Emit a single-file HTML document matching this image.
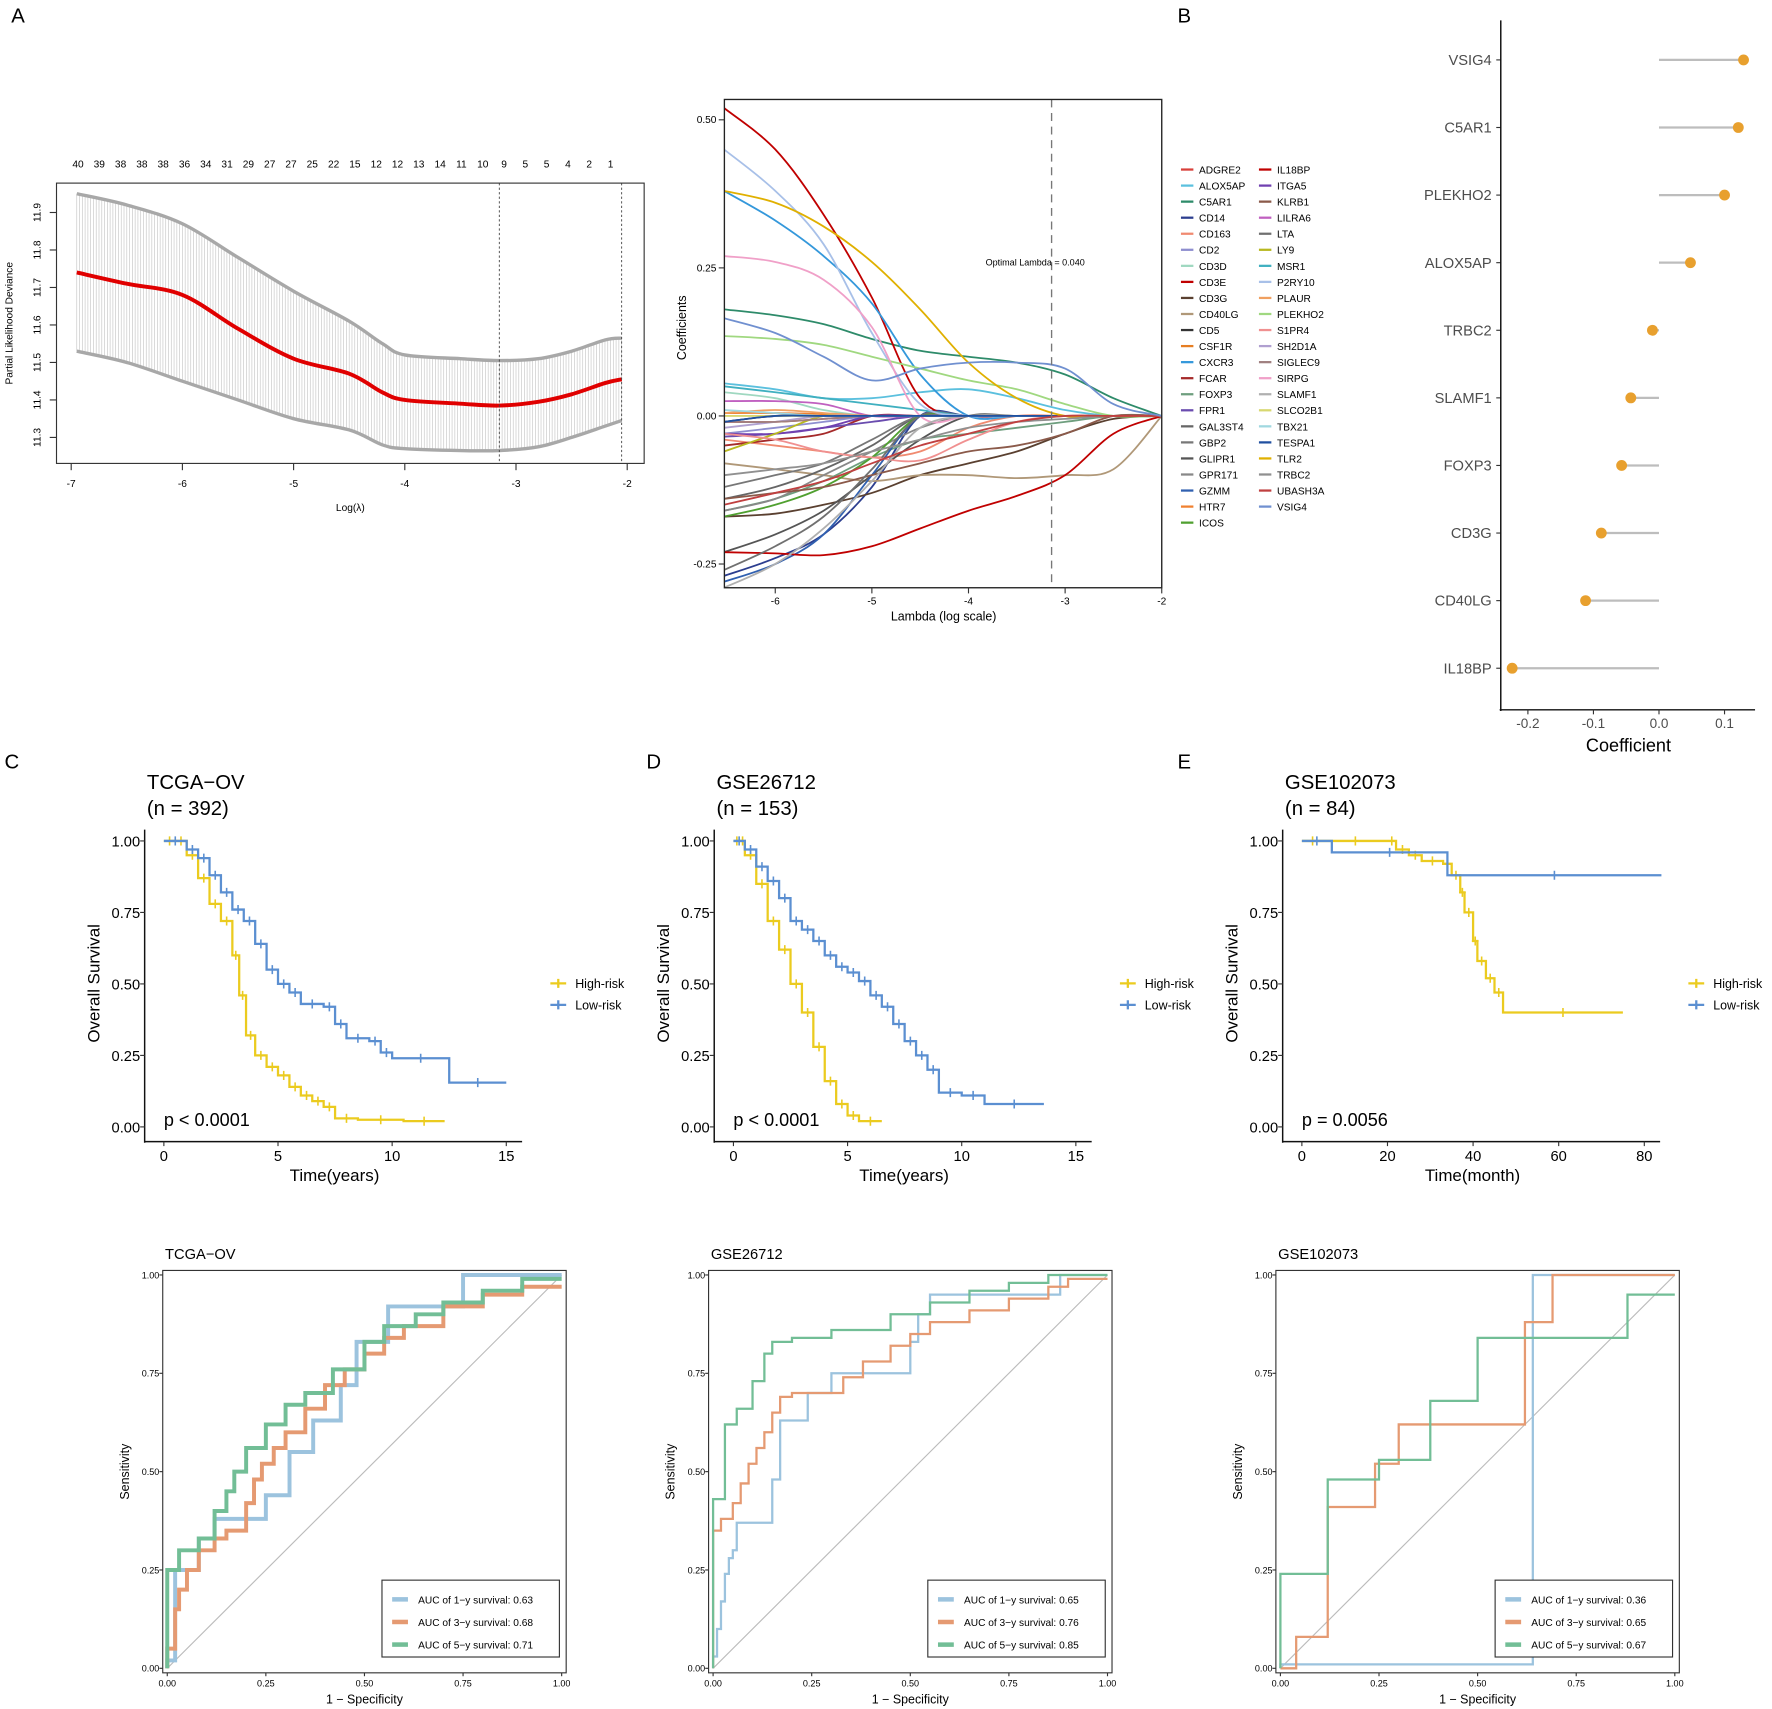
<!DOCTYPE html>
<html><head><meta charset="utf-8"><title>Risk model figure</title>
<style>html,body{margin:0;padding:0;background:#fff;}svg{display:block;font-family:"Liberation Sans",sans-serif;}</style>
</head><body>
<svg id="fig" width="1772" height="1709" viewBox="0 0 1568 1512" preserveAspectRatio="none" xmlns="http://www.w3.org/2000/svg"></svg>
<script>
// ---------- Panel A left: CV deviance ----------
const cvLambda = [-6.95,-6.5,-6,-5.5,-5,-4.5,-4.2,-4,-3.5,-3.15,-2.8,-2.5,-2.2,-2.05];
const cvMean   = [11.74,11.71,11.68,11.59,11.51,11.47,11.42,11.40,11.39,11.385,11.395,11.415,11.445,11.455];
const cvUpper  = [11.95,11.92,11.87,11.78,11.69,11.61,11.55,11.52,11.51,11.505,11.51,11.53,11.56,11.565];
const cvLower  = [11.53,11.50,11.45,11.40,11.35,11.32,11.28,11.27,11.265,11.265,11.275,11.30,11.33,11.345];
const nzCounts = ["40","39","38","38","38","36","34","31","29","27","27","25","22","15","12","12","13","14","11","10","9","5","5","4","2","1"];
const cvXTicks = [-7,-6,-5,-4,-3,-2];
const cvYTicks = [11.3,11.4,11.5,11.6,11.7,11.8,11.9];
const cvVlines = [-3.15,-2.05];

// ---------- Panel A right: coefficient paths ----------
const pathLambda = [-6.53,-6,-5.5,-5,-4.5,-4,-3.5,-3,-2.5,-2];
const geneNames = ["ADGRE2","ALOX5AP","C5AR1","CD14","CD163","CD2","CD3D","CD3E","CD3G","CD40LG","CD5","CSF1R","CXCR3","FCAR","FOXP3","FPR1","GAL3ST4","GBP2","GLIPR1","GPR171","GZMM","HTR7","ICOS",
"IL18BP","ITGA5","KLRB1","LILRA6","LTA","LY9","MSR1","P2RY10","PLAUR","PLEKHO2","S1PR4","SH2D1A","SIGLEC9","SIRPG","SLAMF1","SLCO2B1","TBX21","TESPA1","TLR2","TRBC2","UBASH3A","VSIG4"];
const geneColors = ["#d8403a","#5bc0de","#2e8b6a","#2c3e8f","#f08a70","#8e8ecf","#9fd8c0","#c00000","#5a4030","#b09878","#333333","#e67e22","#3498db","#a52a2a","#6e9e7e","#6a4caf","#666666","#777777","#555555","#888888","#3060b0","#f08030","#50a030",
"#c00000","#7040b0","#8b5a4a","#c060c0","#707070","#b8b820","#40b0c0","#a8c0e8","#f0a060","#a0d880","#f09090","#b0a0d0","#a08080","#f0a0c8","#b0b0b0","#d8d870","#a0d8e0","#2050a0","#e0b000","#909090","#c04040","#7090d0"];
const ADGRE2=[-0.01,-0.01,-0.005,0,0,0,0,0,0,0], ALOX5AP=[0.055,0.045,0.03,0.03,0.04,0.045,0.03,0.01,0,0], C5AR1=[0.18,0.17,0.155,0.13,0.11,0.1,0.09,0.07,0.03,0],
CD14=[-0.27,-0.24,-0.2,-0.12,0,0,0,0,0,0], CD163=[-0.04,-0.05,-0.06,-0.07,-0.06,-0.02,0,0,0,0], CD2=[-0.03,-0.02,-0.01,0,0,0,0,0,0,0], CD3D=[0.04,0.03,0.01,0,0,0,0,0,0,0],
CD3E=[0.52,0.45,0.34,0.2,0.03,0,0,0,0,0], CD3G=[-0.17,-0.165,-0.15,-0.13,-0.1,-0.08,-0.06,-0.03,-0.005,0], CD40LG=[-0.08,-0.09,-0.1,-0.11,-0.1,-0.1,-0.105,-0.1,-0.09,0],
CD5=[-0.01,0,0,0,0,0,0,0,0,0], CSF1R=[0.005,0.005,0,0,0,0,0,0,0,0], CXCR3=[0.38,0.33,0.27,0.19,0.07,0,0,0,0,0], FCAR=[-0.05,-0.04,-0.03,0,0,0,0,0,0,0],
FOXP3=[-0.16,-0.14,-0.11,-0.07,-0.04,-0.03,-0.02,-0.01,0,0], FPR1=[-0.035,-0.03,-0.02,-0.01,0,0,0,0,0,0], GAL3ST4=[-0.14,-0.12,-0.09,-0.05,0,0,0,0,0,0],
GBP2=[-0.12,-0.1,-0.08,-0.04,0,0,0,0,0,0], GLIPR1=[-0.23,-0.2,-0.16,-0.1,-0.04,0,0,0,0,0], GPR171=[-0.16,-0.14,-0.1,-0.06,-0.02,0,0,0,0,0],
GZMM=[-0.28,-0.25,-0.2,-0.1,0,0,0,0,0,0], HTR7=[0.005,0.005,0.003,0,0,0,0,0,0,0], ICOS=[-0.17,-0.15,-0.12,-0.07,0,0,0,0,0,0],
IL18BP=[-0.23,-0.232,-0.235,-0.22,-0.19,-0.16,-0.135,-0.1,-0.03,0], ITGA5=[-0.03,-0.03,-0.02,0,0,0,0,0,0,0], KLRB1=[-0.14,-0.13,-0.12,-0.1,-0.08,-0.06,-0.05,-0.03,0,0],
LILRA6=[0.025,0.025,0.02,0,0,0,0,0,0,0], LTA=[-0.26,-0.22,-0.17,-0.09,0,0,0,0,0,0], LY9=[-0.06,-0.03,0,0,0,0,0,0,0,0], MSR1=[0.05,0.04,0.03,0.02,0.01,0,0,0,0,0],
P2RY10=[0.45,0.38,0.29,0.14,0.02,0,0,0,0,0], PLAUR=[0.005,0.01,0.005,0,0,0,0,0,0,0], PLEKHO2=[0.135,0.13,0.12,0.1,0.08,0.06,0.045,0.02,0,0],
S1PR4=[-0.03,-0.04,-0.06,-0.07,-0.075,-0.04,-0.01,0,0,0], SH2D1A=[-0.02,-0.01,0,0,0,0,0,0,0,0], SIGLEC9=[-0.01,-0.01,-0.005,0,0,0,0,0,0,0],
SIRPG=[0.27,0.26,0.23,0.15,0,0,0,0,0,0], SLAMF1=[-0.29,-0.25,-0.19,-0.11,-0.02,0,0,0,0,0], SLCO2B1=[0,0,0,0,0,0,0,0,0,0], TBX21=[0.01,0.005,0,0,0,0,0,0,0,0],
TESPA1=[-0.01,0,0,0,0,0,0,0,0,0], TLR2=[0.38,0.36,0.32,0.26,0.18,0.09,0.03,0,0,0], TRBC2=[-0.1,-0.09,-0.08,-0.06,-0.04,-0.02,-0.01,-0.005,0,0],
UBASH3A=[-0.15,-0.13,-0.11,-0.08,-0.05,-0.03,-0.01,0,0,0], VSIG4=[0.165,0.14,0.1,0.06,0.08,0.09,0.09,0.08,0.02,0];
const pathSeries=[ADGRE2,ALOX5AP,C5AR1,CD14,CD163,CD2,CD3D,CD3E,CD3G,CD40LG,CD5,CSF1R,CXCR3,FCAR,FOXP3,FPR1,GAL3ST4,GBP2,GLIPR1,GPR171,GZMM,HTR7,ICOS,IL18BP,ITGA5,KLRB1,LILRA6,LTA,LY9,MSR1,P2RY10,PLAUR,PLEKHO2,S1PR4,SH2D1A,SIGLEC9,SIRPG,SLAMF1,SLCO2B1,TBX21,TESPA1,TLR2,TRBC2,UBASH3A,VSIG4];
const pathXTicks=[-6,-5,-4,-3,-2];
const pathYTicks=[-0.25,0,0.25,0.5];
const optLambda=-3.14;

// ---------- Panel B ----------
const lolGenes=["VSIG4","C5AR1","PLEKHO2","ALOX5AP","TRBC2","SLAMF1","FOXP3","CD3G","CD40LG","IL18BP"];
const lolCoef=[0.129,0.121,0.100,0.048,-0.010,-0.043,-0.057,-0.088,-0.112,-0.224];
const lolTicks=[-0.2,-0.1,0.0,0.1];

// ---------- KM ----------
const kmCHighT=[0,0.5,1,1.5,2,2.5,3,3.3,3.6,4,4.5,5,5.5,6,6.5,7,7.5,8.5,10.5,12.3];
const kmCHighS=[1,1,0.95,0.87,0.78,0.72,0.6,0.46,0.32,0.25,0.21,0.18,0.14,0.11,0.09,0.07,0.03,0.025,0.02,0.02];
const kmCLowT=[0,1,1.5,2,2.5,3,3.5,4,4.5,5,5.5,6,7,7.5,8,9,9.5,10,12.5,15];
const kmCLowS=[1,0.97,0.94,0.88,0.82,0.76,0.72,0.64,0.55,0.5,0.47,0.43,0.42,0.36,0.31,0.3,0.26,0.24,0.155,0.155];
const kmDHighT=[0,0.3,0.5,1,1.5,2,2.5,3,3.5,4,4.5,5,5.5,6.5];
const kmDHighS=[1,1,0.95,0.85,0.72,0.62,0.5,0.4,0.28,0.16,0.08,0.04,0.02,0.02];
const kmDLowT=[0,0.5,1,1.5,2,2.5,3,3.5,4,4.5,5,5.5,6,6.5,7,7.5,8,8.5,9,10,11,13.6];
const kmDLowS=[1,0.97,0.91,0.86,0.8,0.72,0.69,0.65,0.6,0.56,0.54,0.51,0.46,0.42,0.36,0.3,0.25,0.2,0.12,0.11,0.08,0.08];
const kmEHighT=[0,5,20,22,25,28,33,35,37,38,40,41,43,45,47,75];
const kmEHighS=[1,1,1,0.97,0.95,0.93,0.92,0.88,0.82,0.75,0.65,0.58,0.52,0.47,0.40,0.40];
const kmELowT=[0,7,34,84];
const kmELowS=[1,0.96,0.88,0.88];
const kmYTicks=[0,0.25,0.5,0.75,1];
const kmYearTicks=[0,5,10,15];
const kmMonthTicks=[0,20,40,60,80];

// ---------- ROC ----------
const rocC1x=[0,0.02,0.08,0.12,0.25,0.31,0.37,0.44,0.48,0.56,0.75,0.84,1];
const rocC1y=[0,0.02,0.25,0.33,0.38,0.44,0.55,0.63,0.72,0.83,0.92,1,1];
const rocC3x=[0,0.02,0.03,0.05,0.08,0.12,0.15,0.2,0.22,0.24,0.27,0.3,0.35,0.4,0.45,0.5,0.55,0.6,0.7,0.8,0.9,1];
const rocC3y=[0,0.05,0.15,0.2,0.25,0.3,0.33,0.35,0.42,0.48,0.52,0.56,0.6,0.66,0.72,0.76,0.8,0.84,0.87,0.92,0.95,0.97];
const rocC5x=[0,0,0.03,0.08,0.12,0.15,0.17,0.2,0.25,0.3,0.35,0.42,0.5,0.55,0.63,0.7,0.8,0.9,1];
const rocC5y=[0,0.18,0.25,0.3,0.33,0.4,0.45,0.5,0.56,0.62,0.67,0.7,0.76,0.83,0.87,0.9,0.93,0.96,0.99];
const rocD1x=[0,0.01,0.02,0.03,0.04,0.05,0.06,0.15,0.17,0.24,0.3,0.5,0.52,0.55,0.88,0.93,1];
const rocD1y=[0,0.03,0.1,0.17,0.24,0.28,0.3,0.37,0.48,0.63,0.7,0.75,0.83,0.9,0.95,1,1];
const rocD3x=[0,0,0.02,0.05,0.07,0.09,0.11,0.13,0.15,0.17,0.2,0.33,0.38,0.45,0.5,0.55,0.65,0.75,0.85,0.9,1];
const rocD3y=[0,0.32,0.35,0.38,0.42,0.47,0.52,0.56,0.6,0.65,0.69,0.7,0.74,0.78,0.82,0.85,0.88,0.91,0.94,0.97,0.99];
const rocD5x=[0,0,0.03,0.06,0.1,0.13,0.15,0.2,0.3,0.45,0.55,0.65,0.75,0.85,0.95,1];
const rocD5y=[0,0.41,0.43,0.62,0.66,0.73,0.8,0.83,0.84,0.86,0.9,0.93,0.96,0.98,1,1];
const rocE1x=[0,0,0.64,0.64,1];
const rocE1y=[0,0.01,0.01,1,1];
const rocE3x=[0,0.04,0.04,0.12,0.12,0.14,0.24,0.24,0.3,0.3,0.62,0.62,0.69,0.69,1];
const rocE3y=[0,0,0.08,0.08,0.32,0.41,0.41,0.52,0.52,0.62,0.62,0.88,0.88,1,1];
const rocE5x=[0,0,0.12,0.12,0.25,0.25,0.38,0.38,0.5,0.5,0.88,0.88,1];
const rocE5y=[0,0.24,0.24,0.48,0.48,0.53,0.53,0.68,0.68,0.84,0.84,0.95,0.95];
const aucC=["0.63","0.68","0.71"], aucD=["0.65","0.76","0.85"], aucE=["0.36","0.65","0.67"];
const rocTicks=[0,0.25,0.5,0.75,1];

// ================= drawing =================
const svg=document.getElementById('fig');
const NS='http://www.w3.org/2000/svg';
function mk(tag,attrs,parent){const e=document.createElementNS(NS,tag);for(const k in attrs)e.setAttribute(k,attrs[k]);(parent||svg).appendChild(e);return e;}
function txt(s,x,y,size,opts,parent){const o=opts||{};const t=mk('text',{x:x,y:y,'font-size':size,fill:o.fill||'#000','text-anchor':o.anchor||'start'},parent);if(o.rot)t.setAttribute('transform','rotate('+o.rot+' '+x+' '+y+')');if(o.weight)t.setAttribute('font-weight',o.weight);t.textContent=s;return t;}
function lin(d0,d1,r0,r1){return v=>r0+(v-d0)*(r1-r0)/(d1-d0);}
function fmt2(v){return v.toFixed(2);}
// Catmull-Rom smooth path through points
function smooth(pts){
  let d='M'+pts[0][0]+','+pts[0][1];
  for(let i=0;i<pts.length-1;i++){
    const p0=pts[i-1]||pts[i],p1=pts[i],p2=pts[i+1],p3=pts[i+2]||p2;
    const c1=[p1[0]+(p2[0]-p0[0])/6,p1[1]+(p2[1]-p0[1])/6];
    const c2=[p2[0]-(p3[0]-p1[0])/6,p2[1]-(p3[1]-p1[1])/6];
    d+=' C'+c1[0]+','+c1[1]+' '+c2[0]+','+c2[1]+' '+p2[0]+','+p2[1];
  }
  return d;
}

// panel letters
[["A",10,20],["B",1042,20],["C",4,680],["D",572,680],["E",1042,680]].forEach(p=>{
  const t=txt(p[0],p[1],p[2],18);
  
  
});

// ---- A left ----
(function(){
  const g=mk('g',{});
  
  
  const X=lin(-7,-2,63,555), Y=lin(11.3,11.9,387,188);
  function interp(arr,l){for(let i=0;i<cvLambda.length-1;i++){if(l>=cvLambda[i]&&l<=cvLambda[i+1]){const f=(l-cvLambda[i])/(cvLambda[i+1]-cvLambda[i]);return arr[i]+f*(arr[i+1]-arr[i]);}}return arr[arr.length-1];}
  for(let l=cvLambda[0];l<=cvLambda[cvLambda.length-1]+1e-9;l+=0.025){
    const b=mk('line',{x1:X(l),x2:X(l),y1:Y(interp(cvUpper,l)),y2:Y(interp(cvLower,l)),stroke:'#c8c8c8','stroke-width':0.6},g);
    
    
  }
  const up=mk('path',{d:smooth(cvLambda.map((l,i)=>[X(l),Y(cvUpper[i])])),fill:'none',stroke:'#a8a8a8','stroke-width':3},g);
  
  
  const lo=mk('path',{d:smooth(cvLambda.map((l,i)=>[X(l),Y(cvLower[i])])),fill:'none',stroke:'#a8a8a8','stroke-width':3},g);
  
  
  const m=mk('path',{d:smooth(cvLambda.map((l,i)=>[X(l),Y(cvMean[i])])),fill:'none',stroke:'#e00000','stroke-width':3.5,'stroke-linejoin':'round'},g);
  
  
  cvVlines.forEach(v=>{const l=mk('line',{x1:X(v),x2:X(v),y1:162,y2:410,stroke:'#444','stroke-width':0.8,'stroke-dasharray':'2,2'},g);
    
    });
  const box=mk('rect',{x:50,y:162,width:520,height:248,fill:'none',stroke:'#333','stroke-width':1},g);
  
  
  cvXTicks.forEach(v=>{mk('line',{x1:X(v),x2:X(v),y1:410,y2:416,stroke:'#333'},g);const t=txt(String(v),X(v),431,9,{anchor:'middle'},g);
    
    });
  cvYTicks.forEach(v=>{mk('line',{x1:44,x2:50,y1:Y(v),y2:Y(v),stroke:'#333'},g);const t=txt(v.toFixed(1),36,Y(v),9,{anchor:'middle',rot:-90},g);
    
    });
  nzCounts.forEach((c,i)=>{const t=txt(c,69+i*18.85,148,9,{anchor:'middle'},g);
    
    });
  const xl=txt('Log(λ)',310,452,9,{anchor:'middle'},g);
  
  
  const yl=txt('Partial Likelihood Deviance',11,286,9,{anchor:'middle',rot:-90},g);
  
  
})();

// ---- A right ----
(function(){
  const g=mk('g',{});
  
  
  const X=lin(-6,-2,686,1028), Y=lin(0,0.5,368,106);
  const clip=mk('clipPath',{id:'cpclip'},g);mk('rect',{x:641,y:88,width:387,height:432},clip);
  const lg=mk('g',{'clip-path':'url(#cpclip)'},g);
  pathSeries.forEach((s,i)=>{
    const p=mk('path',{d:smooth(pathLambda.map((l,j)=>[X(l),Y(s[j])])),fill:'none',stroke:geneColors[i],'stroke-width':1.6,'stroke-linejoin':'round'},lg);
    
    
  });
  const ol=mk('line',{x1:X(optLambda),x2:X(optLambda),y1:88,y2:520,stroke:'#777','stroke-width':1.2,'stroke-dasharray':'7,5'},g);
  
  
  const ot=txt('Optimal Lambda = 0.040',916,235,8,{anchor:'middle'},g);
  
  
  const box=mk('rect',{x:641,y:88,width:387,height:432,fill:'none',stroke:'#222','stroke-width':1.2},g);
  
  
  pathXTicks.forEach(v=>{mk('line',{x1:X(v),x2:X(v),y1:520,y2:525,stroke:'#333'},g);const t=txt(String(v),X(v),535,9,{anchor:'middle'},g);
    
    });
  pathYTicks.forEach(v=>{mk('line',{x1:636,x2:641,y1:Y(v),y2:Y(v),stroke:'#333'},g);const t=txt(v.toFixed(2),634,Y(v)+3,9,{anchor:'end'},g);
    
    });
  const xl=txt('Lambda (log scale)',835,549,11,{anchor:'middle'},g);
  
  
  const yl=txt('Coefficients',607,290,11,{anchor:'middle',rot:-90},g);
  
  
  geneNames.forEach((n,i)=>{
    const col=i<23?0:1, row=i<23?i:i-23;
    const x=1045+col*69, y=150+row*14.2;
    const it=mk('g',{},g);
    
    
    mk('line',{x1:x,x2:x+11,y1:y,y2:y,stroke:geneColors[i],'stroke-width':2},it);
    txt(n,x+16,y+3.5,9,{},it);
  });
})();

// ---- B ----
(function(){
  const g=mk('g',{});
  
  
  const X=lin(0,0.1,1468,1526);
  lolGenes.forEach((n,i)=>{
    const y=53+i*59.8;
    const st=mk('line',{x1:X(0),x2:X(lolCoef[i]),y1:y,y2:y,stroke:'#bdbdbd','stroke-width':2},g);
    
    
    const c=mk('circle',{cx:X(lolCoef[i]),cy:y,r:4.8,fill:'#E8A02E'},g);
    
    
    mk('line',{x1:1324,x2:1328,y1:y,y2:y,stroke:'#333'},g);
    const t=txt(n,1320,y+4.5,13,{anchor:'end',fill:'#4d4d4d'},g);
    
    
  });
  const ya=mk('line',{x1:1328,x2:1328,y1:18,y2:629,stroke:'#111','stroke-width':1.3},g);
  
  
  const xa=mk('line',{x1:1327,x2:1553,y1:628,y2:628,stroke:'#111','stroke-width':1.3},g);
  
  
  lolTicks.forEach(v=>{mk('line',{x1:X(v),x2:X(v),y1:628,y2:632,stroke:'#333'},g);const t=txt(v.toFixed(1),X(v),644,12,{anchor:'middle',fill:'#4d4d4d'},g);
    
    });
  const xl=txt('Coefficient',1441,665,16,{anchor:'middle'},g);
  
  
})();

// ---- KM panels ----
function km(opt){
  const g=mk('g',{});
  
  
  const ax=opt.ax;
  const X=lin(0,opt.xmax,ax+17,ax+17+opt.xspan), Y=lin(0,1,997,744);
  function stepPath(T,S){let d='M'+X(T[0])+','+Y(S[0]);for(let i=1;i<T.length;i++){d+=' H'+X(T[i])+' V'+Y(S[i]);}return d;}
  [[opt.hiT,opt.hiS,'#EBCB1F','high-risk-curve'],[opt.loT,opt.loS,'#5B8FD1','low-risk-curve']].forEach(c=>{
    const p=mk('path',{d:stepPath(c[0],c[1]),fill:'none',stroke:c[2],'stroke-width':2},g);
    
    
    for(let i=1;i<c[0].length;i++){
      const tm=(c[0][i-1]+c[0][i])/2, x=X(tm), y=Y(c[1][i-1]);
      const m=mk('path',{d:'M'+(x-3)+','+y+' H'+(x+3)+' M'+x+','+(y-4)+' V'+(y+4),stroke:c[2],'stroke-width':1.4},g);
      
      
    }
  });
  const ya=mk('line',{x1:ax,x2:ax,y1:734,y2:1011,stroke:'#111','stroke-width':1.3},g);
  
  
  const xa=mk('line',{x1:ax,x2:ax+334,y1:1010,y2:1010,stroke:'#111','stroke-width':1.3},g);
  
  
  kmYTicks.forEach(v=>{mk('line',{x1:ax-4,x2:ax,y1:Y(v),y2:Y(v),stroke:'#333'},g);const t=txt(fmt2(v),ax-4,Y(v)+5,13,{anchor:'end'},g);
    
    });
  opt.xticks.forEach(v=>{mk('line',{x1:X(v),x2:X(v),y1:1010,y2:1014,stroke:'#333'},g);const t=txt(String(v),X(v),1027,13,{anchor:'middle'},g);
    
    });
  const t1=txt(opt.title,ax+2,698,18,{},g);
  
  
  const t2=txt(opt.n,ax+2,721,18,{},g);
  
  
  const pv=txt(opt.p,ax+17,996,16,{},g);
  
  
  const xl=txt(opt.xlab,ax+168,1045,15,{anchor:'middle'},g);
  
  
  const yl=txt('Overall Survival',ax-40,870,15,{anchor:'middle',rot:-90},g);
  
  
  [['High-risk','#EBCB1F',870],['Low-risk','#5B8FD1',889]].forEach(l=>{
    const e=mk('g',{},g);
    
    
    const lx=ax+359;
    mk('path',{d:'M'+lx+','+l[2]+' H'+(lx+14)+' M'+(lx+7)+','+(l[2]-4)+' V'+(l[2]+4),stroke:l[1],'stroke-width':2},e);
    txt(l[0],lx+22,l[2]+4,11,{},e);
  });
}
km({name:'km-tcga-ov',ax:128,xmax:15,xspan:303,xticks:kmYearTicks,hiT:kmCHighT,hiS:kmCHighS,loT:kmCLowT,loS:kmCLowS,title:'TCGA−OV',n:'(n = 392)',p:'p < 0.0001',xlab:'Time(years)'});
km({name:'km-gse26712',ax:632,xmax:15,xspan:303,xticks:kmYearTicks,hiT:kmDHighT,hiS:kmDHighS,loT:kmDLowT,loS:kmDLowS,title:'GSE26712',n:'(n = 153)',p:'p < 0.0001',xlab:'Time(years)'});
km({name:'km-gse102073',ax:1135,xmax:80,xspan:303,xticks:kmMonthTicks,hiT:kmEHighT,hiS:kmEHighS,loT:kmELowT,loS:kmELowS,title:'GSE102073',n:'(n = 84)',p:'p = 0.0056',xlab:'Time(month)'});

// ---- ROC panels ----
function roc(opt){
  const g=mk('g',{});
  
  
  const x0=opt.x0;
  const X=lin(0,1,x0,x0+349), Y=lin(0,1,1476,1128);
  const box=mk('rect',{x:x0-4,y:1124,width:357,height:356,fill:'none',stroke:'#333','stroke-width':1},g);
  
  
  const dg=mk('line',{x1:X(0),y1:Y(0),x2:X(1),y2:Y(1),stroke:'#bbb','stroke-width':1},g);
  
  
  const cols=['#9CC3DE','#E59A72','#72BE96'], names=['roc-1y-curve','roc-3y-curve','roc-5y-curve'];
  opt.curves.forEach((c,k)=>{
    let d='M'+X(c[0][0])+','+Y(c[1][0]);
    for(let i=1;i<c[0].length;i++){d+=' V'+Y(c[1][i])+' H'+X(c[0][i]);}
    const p=mk('path',{d:d,fill:'none',stroke:cols[k],'stroke-width':opt.w},g);
    
    
  });
  rocTicks.forEach(v=>{
    mk('line',{x1:x0-7,x2:x0-4,y1:Y(v),y2:Y(v),stroke:'#333'},g);
    const a=txt(fmt2(v),x0-7,Y(v)+3,8,{anchor:'end'},g);
    
    
    mk('line',{x1:X(v),x2:X(v),y1:1480,y2:1483,stroke:'#333'},g);
    const b=txt(fmt2(v),X(v),1492,8,{anchor:'middle'},g);
    
    
  });
  const t=txt(opt.title,x0-2,1114,13,{},g);
  
  
  const xl=txt('1 − Specificity',X(0.5),1507,11,{anchor:'middle'},g);
  
  
  const yl=txt('Sensitivity',x0-34,1302,11,{anchor:'middle',rot:-90},g);
  
  
  const lg=mk('g',{},g);
  
  
  mk('rect',{x:x0+190,y:1398,width:157,height:68,fill:'#fff',stroke:'#333','stroke-width':1},lg);
  ['1','3','5'].forEach((yr,k)=>{
    const y=1415+k*20;
    mk('line',{x1:x0+199,x2:x0+213,y1:y,y2:y,stroke:cols[k],'stroke-width':4},lg);
    const e=txt('AUC of '+yr+'−y survival: '+opt.auc[k],x0+222,y+3.5,9,{},lg);
    
    
  });
}
roc({name:'roc-tcga-ov',x0:148,w:3.5,title:'TCGA−OV',auc:aucC,curves:[[rocC1x,rocC1y],[rocC3x,rocC3y],[rocC5x,rocC5y]]});
roc({name:'roc-gse26712',x0:631,w:2,title:'GSE26712',auc:aucD,curves:[[rocD1x,rocD1y],[rocD3x,rocD3y],[rocD5x,rocD5y]]});
roc({name:'roc-gse102073',x0:1133,w:2,title:'GSE102073',auc:aucE,curves:[[rocE1x,rocE1y],[rocE3x,rocE3y],[rocE5x,rocE5y]]});
</script>
</body></html>
